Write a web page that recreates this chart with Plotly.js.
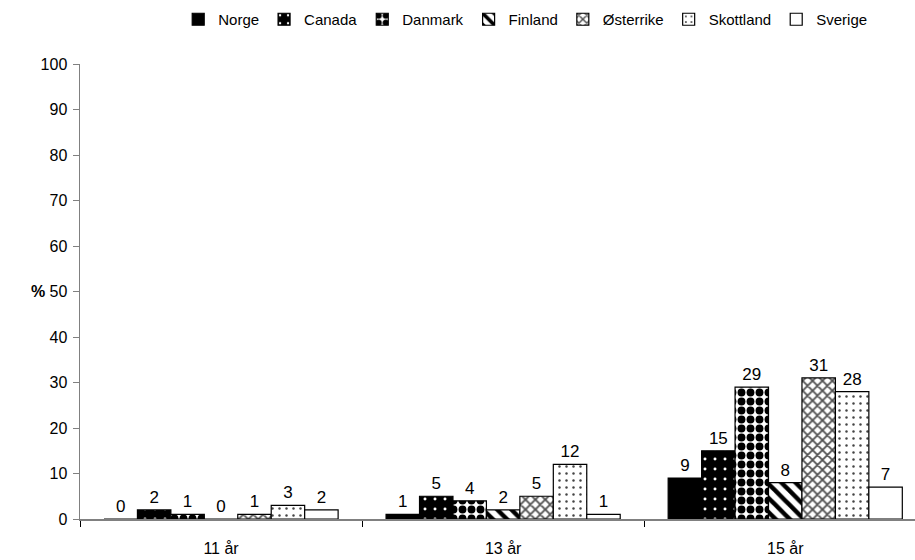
<!DOCTYPE html>
<html>
<head>
<meta charset="utf-8">
<script src="https://cdn.plot.ly/plotly-3.0.1.min.js"></script>
<style>html,body{margin:0;padding:0;background:#fff;}#chart{width:915px;height:560px;}</style>
</head>
<body>
<div id="chart"></div>
<script>
const categories = ["11 år", "13 år", "15 år"];
const countries = ["Norge", "Canada", "Danmark", "Finland", "Østerrike", "Skottland", "Sverige"];
const norge = [0, 1, 9];
const canada = [2, 5, 15];
const danmark = [1, 4, 29];
const finland = [0, 2, 8];
const osterrike = [1, 5, 31];
const skottland = [3, 12, 28];
const sverige = [2, 1, 7];
const yTicks = [0, 10, 20, 30, 40, 50, 60, 70, 80, 90, 100];

const seriesValues = [norge, canada, danmark, finland, osterrike, skottland, sverige];
const styles = [
  {color: "#000000", pattern: {shape: ""}},
  {color: "#000000", pattern: {shape: ".", bgcolor: "#000000", fgcolor: "#ffffff", size: 10, solidity: 0.07}},
  {color: "#000000", pattern: {shape: ".", bgcolor: "#ffffff", fgcolor: "#000000", size: 9, solidity: 0.6}},
  {color: "#000000", pattern: {shape: "\\", bgcolor: "#ffffff", fgcolor: "#000000", size: 10, solidity: 0.45}},
  {color: "#606060", pattern: {shape: "x", bgcolor: "#ffffff", fgcolor: "#505050", size: 7, solidity: 0.45}},
  {color: "#555555", pattern: {shape: ".", bgcolor: "#ffffff", fgcolor: "#444444", size: 7, solidity: 0.1}},
  {color: "#ffffff", pattern: {shape: ""}}
];

const traces = countries.map((name, i) => ({
  type: "bar",
  name: name,
  x: categories,
  y: seriesValues[i],
  text: seriesValues[i].map(String),
  textposition: "outside",
  textfont: {family: "Liberation Sans, Arial, sans-serif", size: 17, color: "#000"},
  cliponaxis: false,
  constraintext: "none",
  marker: {
    color: styles[i].color,
    pattern: styles[i].pattern,
    line: {color: "#000000", width: 1.2}
  }
}));

const layout = {
  width: 915, height: 560,
  margin: {l: 80, r: 0, t: 64, b: 41},
  paper_bgcolor: "#fff", plot_bgcolor: "#fff",
  font: {family: "Liberation Sans, Arial, sans-serif", size: 16, color: "#000"},
  barmode: "group",
  bargap: 0.17,
  bargroupgap: 0,
  showlegend: true,
  legend: {
    orientation: "h",
    xref: "container", yref: "container",
    x: 0.574, xanchor: "center",
    y: 1 - 3/560, yanchor: "top",
    font: {size: 15},
    traceorder: "normal",
    itemwidth: 30
  },
  xaxis: {
    type: "category",
    range: [-0.5, 2.46],
    showline: true, linecolor: "#808080", linewidth: 1.5,
    ticks: "outside", tickson: "boundaries", ticklen: 6, tickcolor: "#000", tickwidth: 1,
    ticklabelstandoff: 14,
    showgrid: false, zeroline: false,
    tickfont: {size: 16}
  },
  yaxis: {
    range: [0, 100],
    tickvals: yTicks,
    ticktext: yTicks.map(String),
    showline: true, linecolor: "#808080", linewidth: 1.5,
    ticks: "outside", ticklen: 6, tickcolor: "#808080", tickwidth: 1,
    ticklabelstandoff: 2,
    showgrid: false, zeroline: false,
    tickfont: {size: 16}
  },
  annotations: [{
    text: "<b>%</b>", xref: "paper", yref: "paper",
    x: -0.04, y: 0.5, xanchor: "right", yanchor: "middle",
    showarrow: false, font: {size: 16, color: "#000"}
  }]
};

Plotly.newPlot("chart", traces, layout, {displayModeBar: false, staticPlot: true});
</script>
</body>
</html>
